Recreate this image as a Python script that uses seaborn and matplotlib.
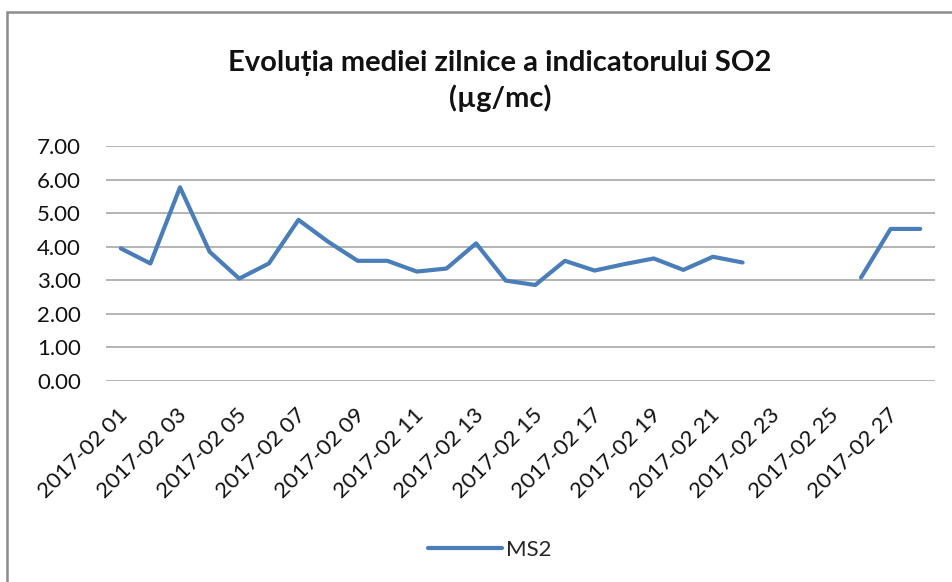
import matplotlib
matplotlib.use("Agg")
import matplotlib.pyplot as plt
import matplotlib.transforms as mtransforms
import numpy as np
import pandas as pd
import seaborn as sns
from matplotlib.lines import Line2D
from matplotlib.patches import Rectangle

# Zile (februarie 2017) si media zilnica SO2 pentru MS2; lipsesc 23-25
days = list(range(1, 29))
date_labels = [f"2017-02 {d:02d}" for d in days]
ms2_values = [3.95, 3.50, 5.77, 3.85, 3.05, 3.50, 4.80, 4.15, 3.58, 3.58,
              3.26, 3.35, 4.10, 2.99, 2.86, 3.58, 3.29, 3.48, 3.65, 3.31,
              3.70, 3.53, np.nan, np.nan, np.nan, 3.08, 4.53, 4.53]
series_name = "MS2"
title_text = "Evoluția mediei zilnice a indicatorului SO2\n(µg/mc)"
y_ticks = [0, 1, 2, 3, 4, 5, 6, 7]

LINE_COLOR = "#4A7EBB"
GRID_COLOR = "#A0A0A0"
FONT = ["Lato", "DejaVu Sans"]

df = pd.DataFrame({"pos": range(len(days)), "label": date_labels, "value": ms2_values})
# segmente separate ca linia sa se intrerupa la valorile lipsa
df["segment"] = df["value"].isna().cumsum()
df = df.dropna(subset=["value"])

sns.set_theme(style="white")
plt.rcParams["font.family"] = FONT

fig = plt.figure(figsize=(9.53, 5.82), dpi=100)
W, H = 953, 582
ax = fig.add_axes([106 / W, 1 - 381 / H, (935 - 106) / W, (381 - 146) / H])

sns.lineplot(data=df, x="pos", y="value", units="segment", estimator=None,
             color=LINE_COLOR, linewidth=3, ax=ax, legend=False)

ax.set_xlim(-0.5, len(days) - 0.5)
ax.set_ylim(0, 7)
ax.set_yticks(y_ticks)
ax.set_yticklabels([f"{v:.2f}" for v in y_ticks])
ax.set_xticks(range(0, len(days), 2))
ax.set_xticklabels(date_labels[::2], rotation=45, ha="right", va="center",
                   rotation_mode="anchor")
ax.set_xlabel("")
ax.set_ylabel("")
for s in ax.spines.values():
    s.set_visible(False)
ax.grid(axis="y", color=GRID_COLOR, linewidth=1.1)
ax.grid(axis="x", visible=False)
ax.set_axisbelow(True)
ax.tick_params(axis="both", length=0, labelsize=16, colors="#111111")
ax.tick_params(axis="y", pad=18)
ax.tick_params(axis="x", pad=22)
offset = mtransforms.ScaledTranslation(4 / 100, 0, fig.dpi_scale_trans)
for lab in ax.get_xticklabels():
    lab.set_transform(lab.get_transform() + offset)

fig.text(500 / W, 1 - 81 / H, title_text, ha="center", va="center",
         fontsize=21, fontweight="bold", linespacing=1.35, color="#111111")

handle = Line2D([], [], color=LINE_COLOR, linewidth=3)
fig.legend([handle], [series_name], loc="center", bbox_to_anchor=(490 / W, 1 - 550 / H),
           frameon=False, fontsize=16, handlelength=3.3, handletextpad=0.2)

# chenarul graficului (doar stanga si sus se vad in captura)
fig.patches.append(Rectangle((7 / W, -0.1), 1.2, 1 - 12 / H + 0.1,
                             transform=fig.transFigure, fill=False,
                             edgecolor="#8C8C8C", linewidth=1.8))

fig.savefig("out.png", dpi=100)
